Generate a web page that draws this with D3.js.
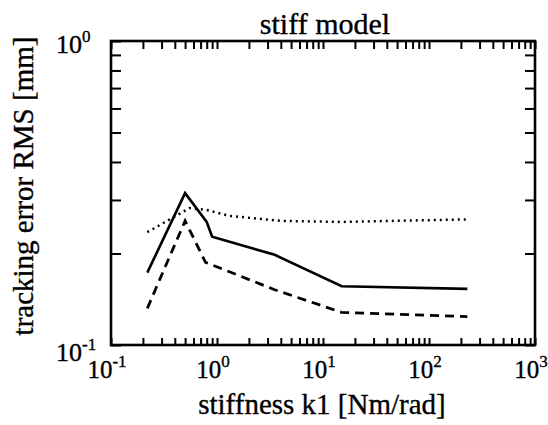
<!DOCTYPE html>
<html><head><meta charset="utf-8">
<script src="https://cdn.jsdelivr.net/npm/d3@7"></script>
<style>
body{margin:0;background:#fff}
text{font-family:"Liberation Serif","Times New Roman",serif;fill:#000;stroke:#000;stroke-width:0.35}
</style>
</head><body><svg id="c" width="548" height="425"></svg>
<script>
// data (log-log)
const solidX = [0.22, 0.5, 0.8, 0.9, 3.5, 15, 230];
const solidY = [0.173, 0.316, 0.254, 0.227, 0.198, 0.156, 0.153];
const dashX  = [0.22, 0.5, 0.78, 3.5, 15, 230];
const dashY  = [0.132, 0.256, 0.187, 0.152, 0.128, 0.124];
const dotX   = [0.22, 0.55, 0.8, 1.3, 4, 15, 230];
const dotY   = [0.235, 0.282, 0.278, 0.266, 0.256, 0.254, 0.259];
const xTickExp = [-1, 0, 1, 2, 3];
const yTickExp = [-1, 0];
const title = "stiff model";
const xTitle = "stiffness k1 [Nm/rad]";
const yTitle = "tracking error RMS [mm]";

const svg = d3.select("#c");
const L = 111, R = 535, T = 41, B = 345;
const x = d3.scaleLog().domain([0.1, 1000]).range([L, R]);
const y = d3.scaleLog().domain([0.1, 1]).range([B, T]);

const xMinor = [];
for (let e = -1; e < 3; e++) for (let m = 1; m <= 9; m++) xMinor.push(m * Math.pow(10, e));
xMinor.push(1000);
const yMinor = [];
for (let m = 1; m <= 10; m++) yMinor.push(m / 10);

const ax = svg.append("g");
function styleAxis(g){ g.select(".domain").remove(); g.selectAll("line").attr("stroke","#000").attr("stroke-width",2); }
ax.append("g").attr("transform",`translate(0,${B})`)
  .call(d3.axisBottom(x).tickValues(xMinor).tickSize(-7).tickFormat("")).call(styleAxis);
ax.append("g").attr("transform",`translate(0,${T})`)
  .call(d3.axisTop(x).tickValues(xMinor).tickSize(-8).tickFormat("")).call(styleAxis);
ax.append("g").attr("transform",`translate(${L},0)`)
  .call(d3.axisLeft(y).tickValues(yMinor).tickSize(-10).tickFormat("")).call(styleAxis);
ax.append("g").attr("transform",`translate(${R},0)`)
  .call(d3.axisRight(y).tickValues(yMinor).tickSize(-10).tickFormat("")).call(styleAxis);

svg.append("rect").attr("x",L).attr("y",T).attr("width",R-L).attr("height",B-T)
  .attr("fill","none").attr("stroke","#000").attr("stroke-width",2.6);

function pow10(sel, e){
  sel.append("tspan").text("10");
  sel.append("tspan").attr("dy",-11).attr("font-size",17).text(String(e));
}
xTickExp.forEach(e=>{
  svg.append("text").attr("x", x(Math.pow(10,e)) - 4).attr("y",378)
    .attr("text-anchor","middle").attr("font-size",25).call(s=>pow10(s,e));
});
yTickExp.forEach(e=>{
  svg.append("text").attr("x",56).attr("y", y(Math.pow(10,e)) + (e===0?12:16))
    .attr("text-anchor","start").attr("font-size",26).call(s=>pow10(s,e));
});

svg.append("text").attr("x",325).attr("y",34).attr("text-anchor","middle")
  .attr("font-size",30).text(title);
svg.append("text").attr("x",322).attr("y",414).attr("text-anchor","middle")
  .attr("font-size",29).text(xTitle);
svg.append("text").attr("transform","translate(33,186) rotate(-90)").attr("text-anchor","middle")
  .attr("font-size",29).text(yTitle);

const line = d3.line().x(d=>x(d[0])).y(d=>y(d[1]));
const g = svg.append("g").attr("fill","none").attr("stroke","#000");
g.append("path").datum(d3.zip(solidX, solidY)).attr("d",line).attr("stroke-width",2.6);
g.append("path").datum(d3.zip(dashX, dashY)).attr("d",line).attr("stroke-width",2.8).attr("stroke-dasharray","9,6");
g.append("path").datum(d3.zip(dotX, dotY)).attr("d",line).attr("stroke-width",2.5).attr("stroke-dasharray","2,4").attr("stroke-linecap","butt");
</script></body></html>
